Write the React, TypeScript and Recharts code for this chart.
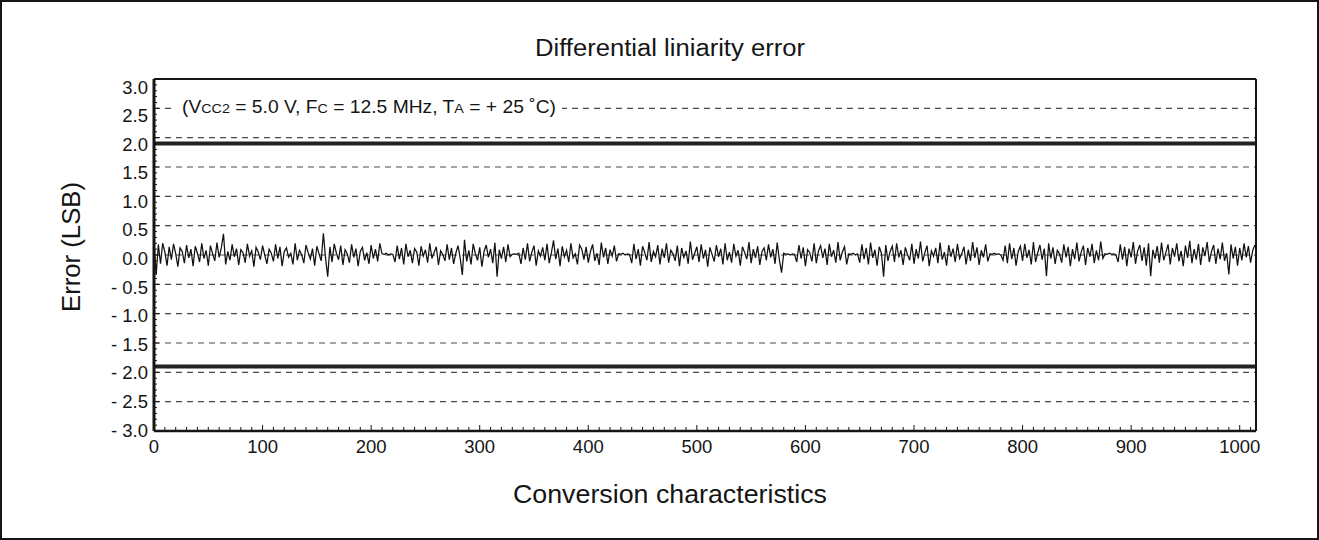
import React from 'react';
import { LineChart, Line, XAxis, YAxis, ReferenceLine } from 'recharts';

// differential linearity error, hundredths of an LSB, one reading every 2 codes
const dleHundredths = [
  22, -34, 18, -15, 20, 5, -18, 14, -8, 19, 2, -20, 12, 6, -14, 17, -5, 10, -19, 15,
  3, -12, 20, -6, 8, -18, 16, 2, -10, 21, -4, 12, 36, -16, 6, -9, 18, -3, 11, -17,
  9, 4, -13, 19, -2, 7, -20, 13, 5, -8, 16, 0, -15, 10, 3, -11, 18, -6, 14, -19,
  6, 12, -4, 3, -16, 20, -9, 8, 1, -14, 17, 4, -7, 11, -18, 15, 2, -10, 37, -5,
  -37, 14, -12, 19, 3, -8, 16, -17, 9, 2, -13, 18, -4, 11, -19, 6, 13, -9, 4, -15,
  17, -6, 10, -11, 20, 2, 1, 3, 0, 2, 1, -12, 16, -7, 12, -16, 19, -3, 8, -14,
  11, 5, -18, 15, -2, 9, -13, 20, -6, 4, 14, -17, 7, 1, -10, 18, -8, 12, -15, 3,
  16, -5, -34, 26, -11, 8, -16, 19, 2, -9, 13, -20, 6, 17, -4, 10, -14, 21, -37, 9,
  -6, 14, -12, 18, -3, 1, 2, 1, 3, -15, 12, -8, 20, -11, 5, 16, -18, 7, -2, 13,
  -9, 19, -14, 4, 25, -7, 11, -19, 15, -3, 8, -12, 20, -5, 2, -16, 17, 10, -8, 14,
  -13, 6, 18, -10, 3, -17, 21, -4, 12, -15, 9, -2, 16, -11, 2, 1, 3, 0, 2, 1,
  -14, 19, -7, 10, -18, 15, 4, -9, 22, -12, 6, -3, 17, -16, 11, -5, 20, -13, 8, 2,
  -10, 16, -19, 12, -4, 7, -15, 23, -8, 3, 14, -12, 18, -6, 9, -20, 13, 1, -11, 17,
  -3, 11, -16, 20, -9, 5, -13, 19, -2, 8, -18, 14, 4, -7, 22, -14, 10, -5, 15, -17,
  6, 12, -9, 18, -4, 10, -15, 21, -8, -30, 3, 1, 2, 0, 2, 1, -12, 17, -6, 13,
  -19, 9, 4, -11, 20, -14, 7, 16, -5, 11, -17, 19, -3, 8, -13, 22, -9, 5, 14, -16,
  2, 1, 3, 0, 2, -13, 18, -7, 12, -16, 21, -5, 9, -18, 14, 3, -37, 17, -10, 6,
  15, -12, 20, -4, 8, -17, 13, 1, -9, 19, -15, 10, -6, 23, -11, 4, 16, -19, 7, -2,
  12, -14, 21, -8, 5, -18, 17, -3, 11, -12, 19, -6, 2, 14, -16, 9, -10, 22, -5, 13,
  -17, 8, -4, 18, -11, 2, 1, 3, 1, 2, 0, -9, 16, -14, 20, -7, 12, -18, 6, 15,
  -10, 19, -5, 9, -16, 22, -12, 4, 17, -8, 11, -36, 20, -6, 13, -15, 8, 2, -13, 18,
  -4, 14, -19, 10, -7, 21, -11, 5, 16, -17, 12, -3, 19, -14, 8, -9, 23, -6, 2, 1,
  3, 1, 2, 0, -12, 18, -8, 14, -19, 11, -4, 22, -15, 7, 17, -10, 13, -18, 20, -36,
  9, -6, 15, -13, 21, -9, 4, 18, -16, 12, -3, 20, -11, 7, -19, 16, -5, 24, -14, 10,
  -8, 19, -17, 13, -2, 22, -12, 6, 17, -15, 11, -7, 21, -10, 3, -33, 18, -6, 14, -18,
  12, -9, 20, -4, 15, -13, 8, 17,
];
const codeStep = 2;

const xMajorTicks = [0, 100, 200, 300, 400, 500, 600, 700, 800, 900, 1000];
const yMajorTicks = [3, 2.5, 2, 1.5, 1, 0.5, 0, -0.5, -1, -1.5, -2, -2.5, -3];
const gridLevels = [2.5, 2, 1.5, 1, 0.5, 0, -0.5, -1, -1.5, -2, -2.5];
const limitLevels = [1.9, -1.9];
const xMax = 1015;

const data = dleHundredths.map((v, i) => ({ code: i * codeStep, dle: v / 100 }));
// minor tick marks: every 10 codes, every 0.1 LSB
const xTicks = Array.from({ length: 102 }, (_, i) => i * 10);
const yTicks = Array.from({ length: 61 }, (_, i) => (i - 30) / 10);

const FONT = '"Liberation Sans", Arial, Helvetica, sans-serif';
const INK = '#151515';

const fmtY = (v: number) => (v < 0 ? `- ${Math.abs(v).toFixed(1)}` : v.toFixed(1));

function YTick(props: any) {
  const { x, y, payload } = props;
  const v = Number(payload.value);
  const major = yMajorTicks.some((m) => Math.abs(m - v) < 1e-6);
  return (
    <g>
      <line x1={x} x2={x + (major ? 5 : 3)} y1={y} y2={y} stroke={INK} strokeWidth={1} />
      {major && (
        <text x={x - 6} y={y + 10 + 1.5 * v} textAnchor="end" fontSize={18.5} fontFamily={FONT} fill={INK}>
          {fmtY(v)}
        </text>
      )}
    </g>
  );
}

function XTick(props: any) {
  const { x, y, payload } = props;
  const v = Number(payload.value);
  const major = xMajorTicks.includes(v);
  return (
    <g>
      <line x1={x} x2={x} y1={y} y2={y - (major ? 6 : 4)} stroke={INK} strokeWidth={1} />
      {major && (
        <text x={x} y={y + 22} textAnchor="middle" fontSize={18.5} fontFamily={FONT} fill={INK}>
          {v}
        </text>
      )}
    </g>
  );
}

export default function App() {
  return (
    <div style={{ position: 'absolute', left: 0, top: 0, width: 1319, height: 540, background: '#fff' }}>
      <LineChart width={1319} height={540} data={data} margin={{ top: 79, right: 63, left: 0, bottom: 69 }}>
        {gridLevels.map((g) => (
          <ReferenceLine key={`g${g}`} y={g} stroke="#4a4a4a" strokeWidth={1.2} strokeDasharray="6 5" />
        ))}
        {limitLevels.map((l) => (
          <ReferenceLine key={`l${l}`} y={l} stroke="#222" strokeWidth={4} />
        ))}
        <ReferenceLine y={3} stroke={INK} strokeWidth={2} />
        <ReferenceLine x={xMax} stroke={INK} strokeWidth={2} />
        <XAxis
          type="number"
          dataKey="code"
          domain={[0, xMax]}
          ticks={xTicks}
          interval={0}
          height={40}
          tickSize={0}
          tickMargin={0}
          tickLine={false}
          tick={<XTick />}
          axisLine={{ stroke: INK, strokeWidth: 2.5 }}
        />
        <YAxis
          type="number"
          domain={[-3, 3]}
          ticks={yTicks}
          interval={0}
          width={154}
          tickSize={0}
          tickMargin={0}
          tickLine={false}
          tick={<YTick />}
          axisLine={{ stroke: INK, strokeWidth: 3 }}
        />
        <Line type="linear" dataKey="dle" stroke="#111" strokeWidth={1.25} dot={false} isAnimationActive={false} />
      </LineChart>
      <svg width={1319} height={540} style={{ position: 'absolute', left: 0, top: 0, pointerEvents: 'none' }}>
        <rect x={1} y={1} width={1317} height={538} fill="none" stroke={INK} strokeWidth={2} />
        <text x={670} y={56} textAnchor="middle" fontSize={23} fontFamily={FONT} fill={INK} textLength={270} lengthAdjust="spacingAndGlyphs">
          Differential liniarity error
        </text>
        <text x={670} y={503} textAnchor="middle" fontSize={26} fontFamily={FONT} fill={INK} textLength={314} lengthAdjust="spacingAndGlyphs">
          Conversion characteristics
        </text>
        <text x={80} y={247} transform="rotate(-90, 80, 247)" textAnchor="middle" fontSize={25} fontFamily={FONT} fill={INK} textLength={130} lengthAdjust="spacingAndGlyphs">
          Error (LSB)
        </text>
        <rect x={171} y={96} width={391} height={22} fill="#fff" />
        <text x={182} y={113} fontSize={17.5} fontFamily={FONT} fill={INK} textLength={374} lengthAdjust="spacingAndGlyphs">
          (V<tspan fontSize={13}>CC2</tspan> = 5.0 V, F<tspan fontSize={13}>C</tspan> = 12.5 MHz, T<tspan fontSize={13}>A</tspan> = + 25 ˚C)
        </text>
      </svg>
    </div>
  );
}
